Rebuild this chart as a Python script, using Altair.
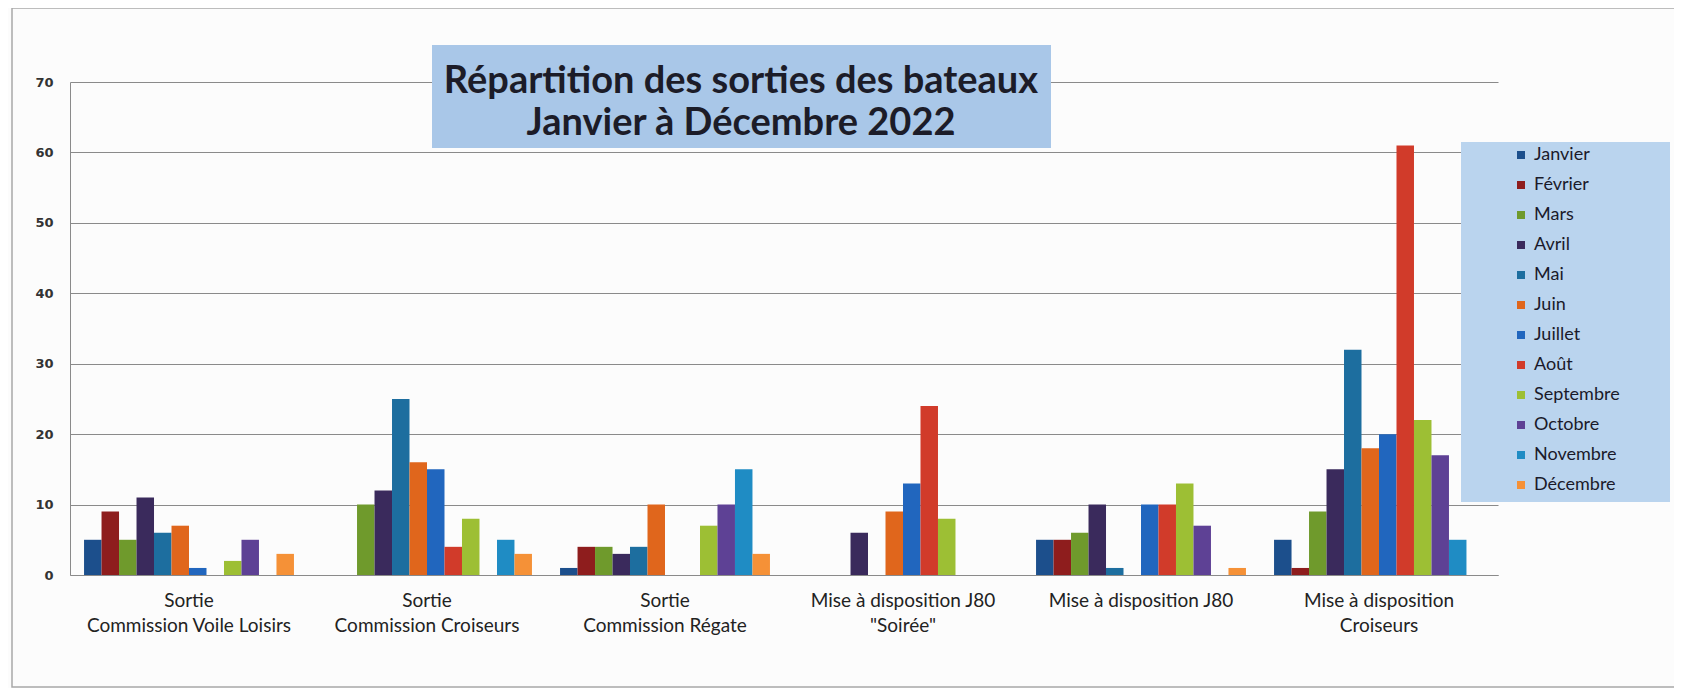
import altair as alt
import pandas as pd

months = ["Janvier", "Février", "Mars", "Avril", "Mai", "Juin", "Juillet",
          "Août", "Septembre", "Octobre", "Novembre", "Décembre"]
categories = [
    "Sortie\nCommission Voile Loisirs",
    "Sortie\nCommission Croiseurs",
    "Sortie\nCommission Régate",
    'Mise à disposition J80\n"Soirée"',
    "Mise à disposition J80",
    "Mise à disposition\nCroiseurs",
]
colors = ["#1c4f8c", "#8e1d1d", "#6f9a2c", "#3a2a5c", "#1d6e9f", "#e0661c",
          "#2166be", "#d13b2a", "#9dbf34", "#5e4195", "#1f8cc4", "#f59137"]

voile_loisirs = [5, 9, 5, 11, 6, 7, 1, 0, 2, 5, 0, 3]
croiseurs = [0, 0, 10, 12, 25, 16, 15, 4, 8, 0, 5, 3]
regate = [1, 4, 4, 3, 4, 10, 0, 0, 7, 10, 15, 3]
j80_soiree = [0, 0, 0, 6, 0, 9, 13, 24, 8, 0, 0, 0]
j80 = [5, 5, 6, 10, 1, 0, 10, 10, 13, 7, 0, 1]
mad_croiseurs = [5, 1, 9, 15, 32, 18, 20, 61, 22, 17, 5, 0]
series = [voile_loisirs, croiseurs, regate, j80_soiree, j80, mad_croiseurs]

y_ticks = [0, 10, 20, 30, 40, 50, 60, 70]
title_line1 = "Répartition des sorties des bateaux"
title_line2 = "Janvier à Décembre 2022"

rows = []
for cat, vals in zip(categories, series):
    for m, v in zip(months, vals):
        rows.append({"Catégorie": cat, "Mois": m, "Sorties": v})
df = pd.DataFrame(rows)

W, H = 1428, 493
one = alt.Data(values=[{}])

frame = alt.Chart(one).mark_rect(fillOpacity=0, stroke="#a8a8a8", strokeWidth=1.5).encode(
    x=alt.value(-58), x2=alt.value(1620), y=alt.value(-74), y2=alt.value(605)
)

bars = alt.Chart(df).mark_bar().encode(
    x=alt.X("Catégorie:N", sort=categories,
            scale=alt.Scale(paddingInner=0.118, paddingOuter=0.059),
            axis=alt.Axis(title=None, labelAngle=0, labelExpr="split(datum.label, '\\n')",
                          labelFontSize=19, labelFont="Lato", labelColor="#222222",
                          labelPadding=16, labelLineHeight=25, labelBaseline="top",
                          labelLimit=0, ticks=False, domainColor="#8a8a8a", grid=False)),
    xOffset=alt.XOffset("Mois:N", sort=months,
                        scale=alt.Scale(paddingInner=0, paddingOuter=0)),
    y=alt.Y("Sorties:Q", scale=alt.Scale(domain=[0, 70], nice=False),
            axis=alt.Axis(title=None, values=y_ticks, ticks=False, labelPadding=17,
                          labelFont="DejaVu Sans", labelFontWeight="bold", labelFontSize=13,
                          labelColor="#333333", domainColor="#8a8a8a",
                          gridColor="#8a8a8a", gridWidth=1.2)),
    color=alt.Color("Mois:N", sort=months,
                    scale=alt.Scale(domain=months, range=colors),
                    legend=alt.Legend(title=None, orient="none", legendX=1442, legendY=64,
                                      symbolType="square", symbolSize=64,
                                      symbolStrokeWidth=0, labelFontSize=18,
                                      labelFont="Lato", labelColor="#1a1a2a",
                                      rowPadding=12, labelOffset=4, padding=0)),
)

legend_box = alt.Chart(one).mark_rect(color="#bad4ee").encode(
    x=alt.value(1391), x2=alt.value(1600), y=alt.value(60), y2=alt.value(420)
)
title_box = alt.Chart(one).mark_rect(color="#a9c7e8").encode(
    x=alt.value(362), x2=alt.value(981), y=alt.value(-37), y2=alt.value(66)
)
title_text = alt.Chart(one).mark_text(
    font="Lato", fontSize=38, fontWeight="bold", color="#1c1c28",
    lineHeight=42, baseline="middle", align="center"
).encode(x=alt.value(671), y=alt.value(0), text=alt.value([title_line1, title_line2]))

chart = alt.layer(frame, bars, legend_box, title_box, title_text).properties(
    width=W, height=H, autosize="none",
    padding={"left": 62, "top": 74, "right": 176, "bottom": 113},
    background="#fcfcfc",
).configure_view(stroke=None)

chart.save("out.html", embed_options={"renderer": "svg", "actions": False})
